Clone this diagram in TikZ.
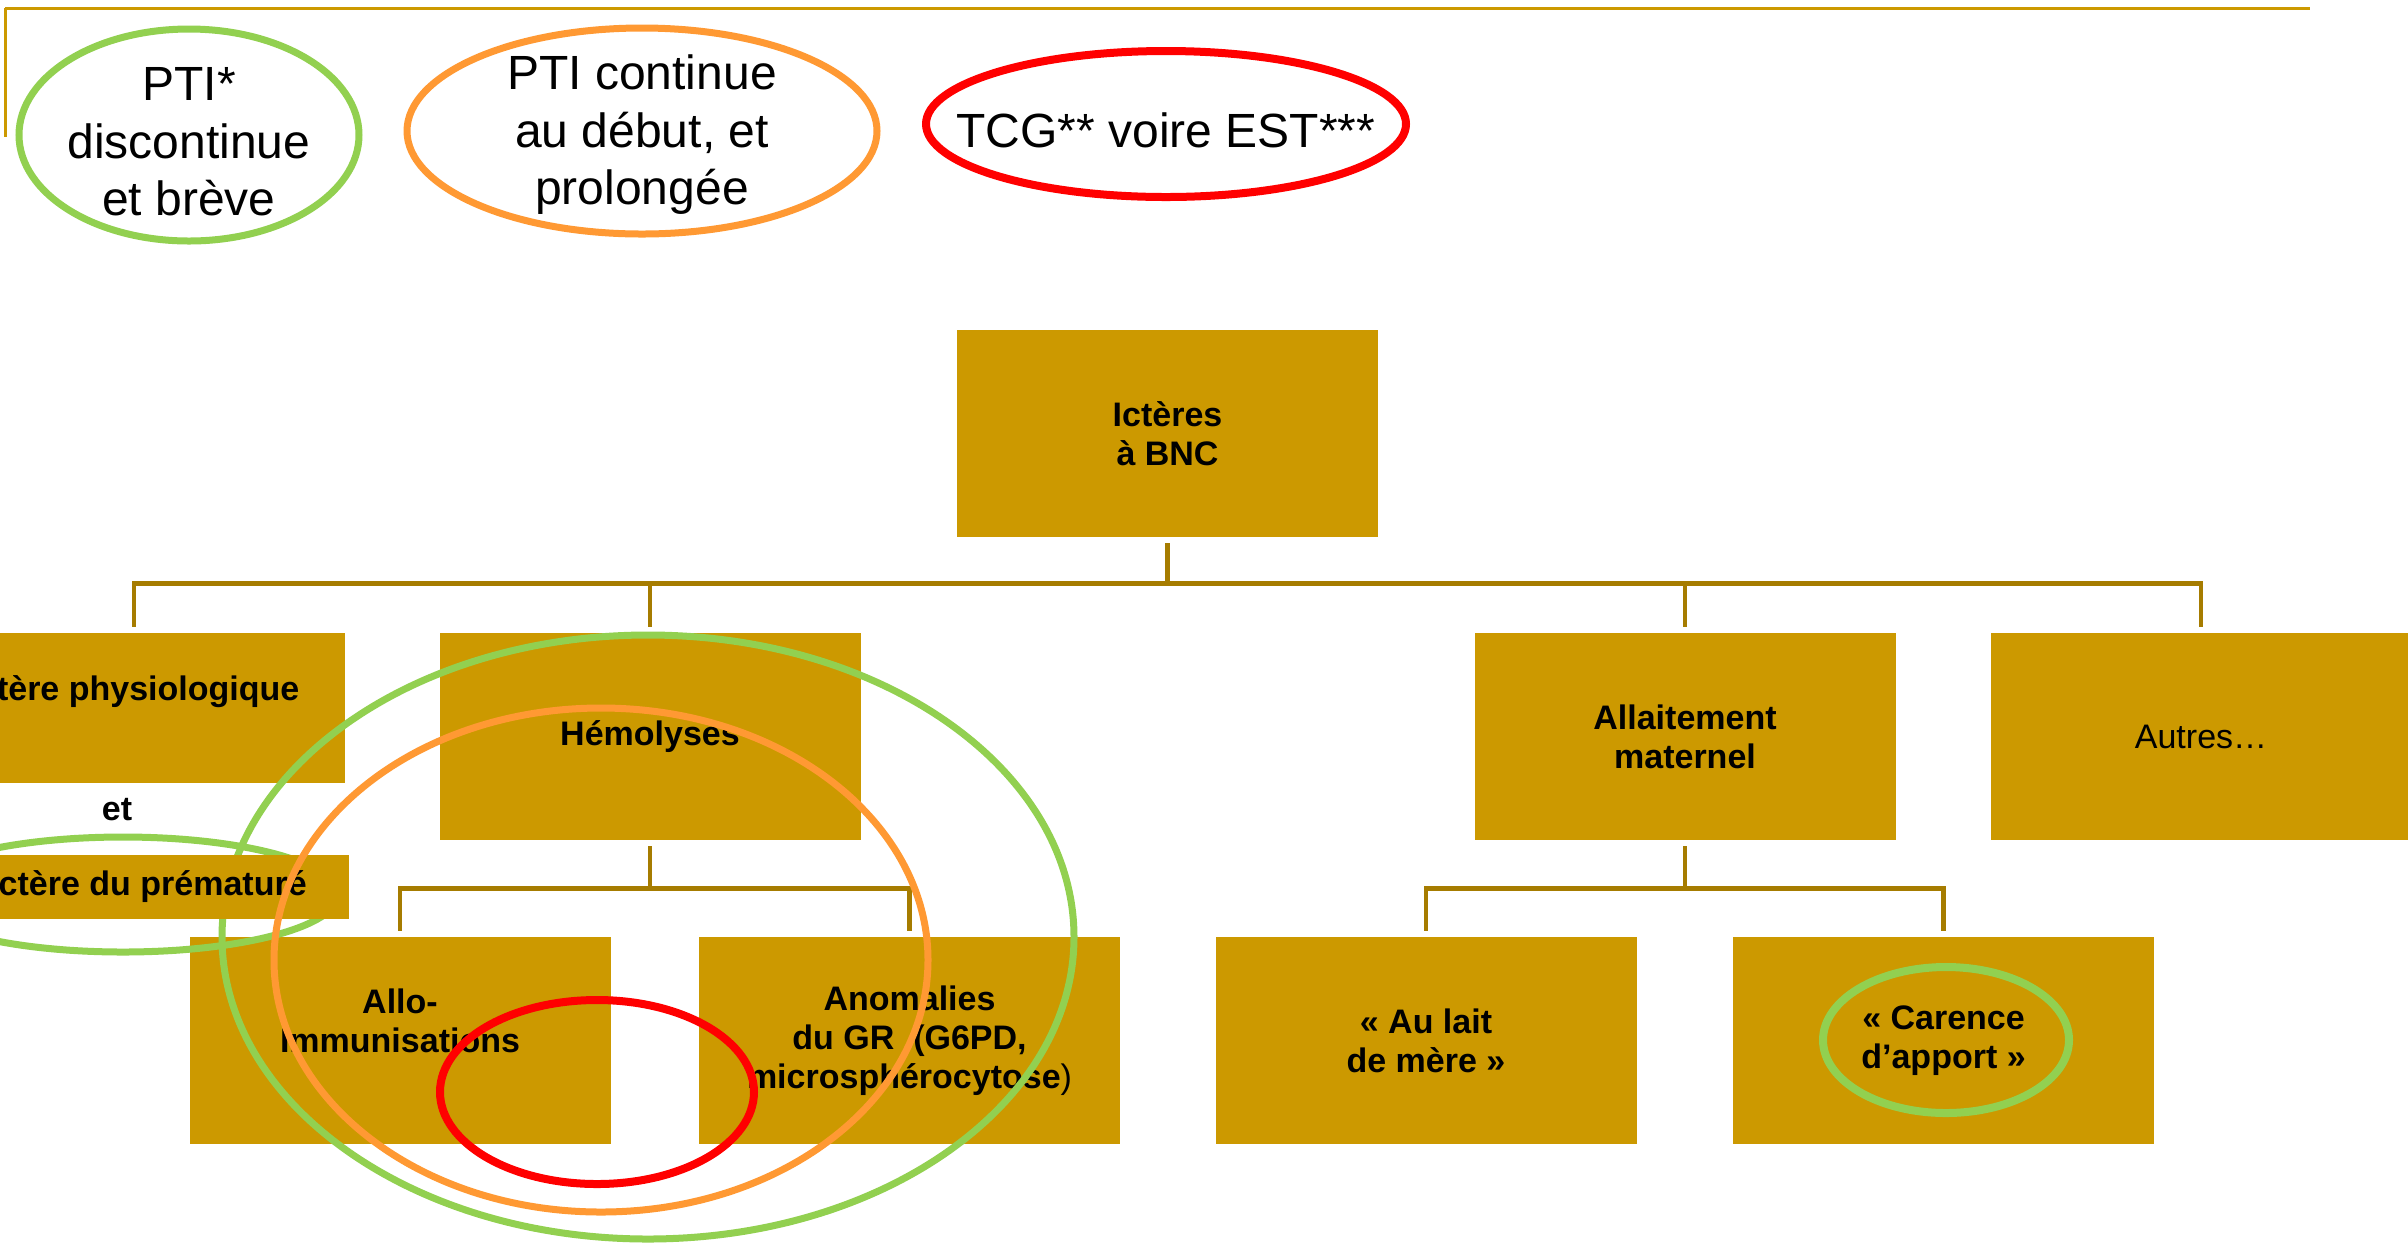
\documentclass[tikz,border=0pt]{standalone}
\usepackage{fontspec}
\setmainfont{Liberation Sans}
\definecolor{gold}{HTML}{CC9900}
\definecolor{connc}{HTML}{A67C00}
\definecolor{pgreen}{HTML}{92D050}
\definecolor{porange}{HTML}{FF9933}
\definecolor{pred}{HTML}{FF0000}
\begin{document}
\begin{tikzpicture}[x=0.5pt,y=-0.5pt,
  box/.style={fill=gold, minimum width=210.5pt, minimum height=103.5pt, inner sep=0pt, align=center,
    font=\bfseries\fontsize{17}{19.5}\selectfont},
  conn/.style={draw=connc, line width=2.2pt},
  ring/.style={line width=3.5pt},
  toptext/.style={align=center, inner sep=0pt, font=\fontsize{24}{28.75}\selectfont}
]
\useasboundingbox (0,0) rectangle (2408,1250);
\fill[white] (0,0) rectangle (2408,1250);
\clip (0,0) rectangle (2408,1250);

% title rules
\draw[gold, line width=1.5pt] (5,8) -- (2310,8);
\draw[gold, line width=1.5pt] (5,8) -- (5,137);

% legend ellipses
\draw[pgreen, ring] (189,135) ellipse [x radius=85pt, y radius=53pt];
\draw[porange, ring] (642,131) ellipse [x radius=117.5pt, y radius=51.5pt];
\draw[pred, ring, line width=4pt] (1166,124) ellipse [x radius=120pt, y radius=36.5pt];
\node[toptext] (lg) at (189,142) {PTI*\\discontinue\\et brève};
\node[toptext] (lo) at (642,135) {PTI continue\\au début, et\\prolongée};
\node[toptext] (lr) at (1166,130) {TCG** voire EST***};

% boxes
\node[box] (root) at (1167.5,433.5) {Ictères\\à BNC};
\node[box, minimum height=75pt] (physio) at (134,708) {Ictère physiologique\\~};
\node[box] (hemo) at (650,736.5) {Hémolyses};
\node[box] (allait) at (1685,736.5) {Allaitement\\maternel};
\node[box, font=\mdseries\fontsize{17}{19.5}\selectfont] (autres) at (2201,736.5) {Autres…};
\node[box] (allo) at (400,1040.5) {Allo-\\Immunisations\\~};
\node[box] (anom) at (909.5,1040.5) {Anomalies\\du GR\ \ (G6PD,\\microsphérocytose{\mdseries )}};
\node[box] (lait) at (1426,1040.5) {« Au lait\\de mère »};
\node[box] (carence) at (1943.5,1040.5) {« Carence\\d’apport »};

% connectors
\foreach \c in {physio,hemo,allait,autres}
  \draw[conn] ([yshift=-3pt]root.south) -- ++(0,40) -| ([yshift=3pt]\c.north);
\foreach \c in {allo,anom}
  \draw[conn] ([yshift=-3pt]hemo.south) -- ++(0,42) -| ([yshift=3pt]\c.north);
\foreach \c in {lait,carence}
  \draw[conn] ([yshift=-3pt]allait.south) -- ++(0,42) -| ([yshift=3pt]\c.north);

% overlay rings
\draw[pgreen, ring] (648,937) ellipse [x radius=213pt, y radius=151pt];
\draw[pgreen, ring] (123,894.5) ellipse [x radius=107.5pt, y radius=28.75pt];
\node[box, minimum width=201pt, minimum height=32pt] (premat) at (148,887) {Ictère du prématuré};
\node[font=\bfseries\fontsize{17}{19.5}\selectfont] (et) at (117,810) {et};
\draw[porange, ring] (601,960) ellipse [x radius=163.5pt, y radius=126pt];
\draw[pred, ring, line width=4pt] (597,1092) ellipse [x radius=78.5pt, y radius=46pt];
\draw[pgreen, ring, line width=4pt] (1946,1040) ellipse [x radius=61.5pt, y radius=36.5pt];
\end{tikzpicture}
\end{document}
